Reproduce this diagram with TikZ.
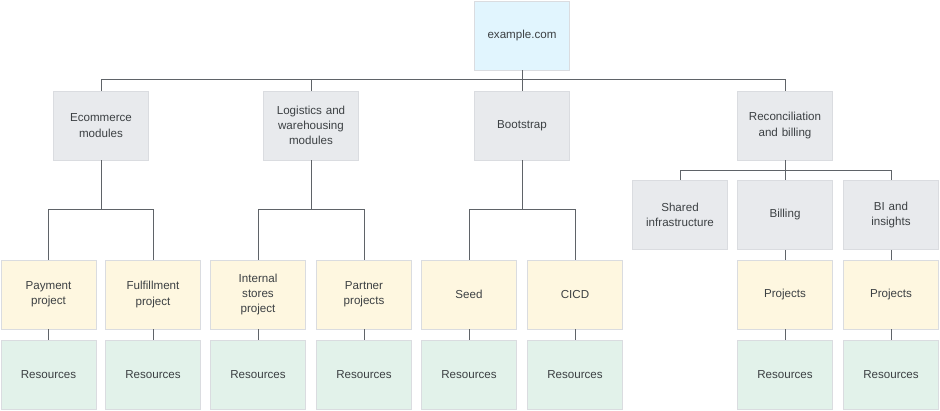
\documentclass[tikz,border=0pt]{standalone}
\usepackage{fontspec}
\setmainfont{Liberation Sans}
\definecolor{txt}{HTML}{3C4043}
\definecolor{ln}{HTML}{5F6368}
\definecolor{bd}{HTML}{DADCE0}
\definecolor{fblue}{HTML}{E1F5FE}
\definecolor{fgray}{HTML}{E8EAED}
\definecolor{fyel}{HTML}{FEF7E0}
\definecolor{fgreen}{HTML}{E2F2EA}
\tikzset{
  box/.style={draw=bd, line width=0.8pt, minimum width=95pt, minimum height=69pt, inner sep=0pt,
    align=center, text=txt, font=\fontsize{11.6}{15.2}\selectfont, text width=92pt},
  bluebox/.style={box, fill=fblue},
  graybox/.style={box, fill=fgray},
  yelbox/.style={box, fill=fyel},
  greenbox/.style={box, fill=fgreen},
  conn/.style={draw=ln, line width=0.9pt},
}
\begin{document}
\begin{tikzpicture}[x=1pt,y=-1pt]
\useasboundingbox (0,0) rectangle (940,411);
% top
\node[bluebox] (root) at (522,35.5) {example.com};
% row 2
\node[graybox] (ecom) at (101,125.5) {Ecommerce\\modules};
\node[graybox] (logi) at (311,125.5) {Logistics and\\warehousing\\modules};
\node[graybox] (boot) at (522,125.5) {Bootstrap};
\node[graybox] (reco) at (785,125.5) {Reconciliation\\and billing};
% row 3
\node[graybox] (shared) at (680,215) {Shared\\infrastructure};
\node[graybox] (bill) at (785,215) {Billing};
\node[graybox] (bi) at (891,215) {BI and\\insights};
% row 4
\node[yelbox] (pay) at (48.5,294.5) {Payment\\project};
\node[yelbox] (ful) at (153,294.5) {Fulfillment\\project};
\node[yelbox] (ins) at (258,294.5) {Internal\\stores\\project};
\node[yelbox] (par) at (364,294.5) {Partner\\projects};
\node[yelbox] (seed) at (469,294.5) {Seed};
\node[yelbox] (cicd) at (575,294.5) {CICD};
\node[yelbox] (pb) at (785,294.5) {Projects};
\node[yelbox] (pbi) at (891,294.5) {Projects};
% row 5
\node[greenbox] (r1) at (48.5,374.5) {Resources};
\node[greenbox] (r2) at (153,374.5) {Resources};
\node[greenbox] (r3) at (258,374.5) {Resources};
\node[greenbox] (r4) at (364,374.5) {Resources};
\node[greenbox] (r5) at (469,374.5) {Resources};
\node[greenbox] (r6) at (575,374.5) {Resources};
\node[greenbox] (r7) at (785,374.5) {Resources};
\node[greenbox] (r8) at (891,374.5) {Resources};
% connectors
\path[conn] (root.south) -- ++(0,9) -| (ecom.north);
\path[conn] (root.south) -- ++(0,9) -| (logi.north);
\path[conn] (root.south) -- (boot.north);
\path[conn] (root.south) -- ++(0,9) -| (reco.north);
\path[conn] (ecom.south) -- ++(0,49) -| (pay.north);
\path[conn] (ecom.south) -- ++(0,49) -| (ful.north);
\path[conn] (logi.south) -- ++(0,49) -| (ins.north);
\path[conn] (logi.south) -- ++(0,49) -| (par.north);
\path[conn] (boot.south) -- ++(0,49) -| (seed.north);
\path[conn] (boot.south) -- ++(0,49) -| (cicd.north);
\path[conn] (reco.south) -- ++(0,10) -| (shared.north);
\path[conn] (reco.south) -- (bill.north);
\path[conn] (reco.south) -- ++(0,10) -| (bi.north);
\path[conn] (bill.south) -- (pb.north);
\path[conn] (bi.south) -- (pbi.north);
\foreach \a/\b in {pay/r1,ful/r2,ins/r3,par/r4,seed/r5,cicd/r6,pb/r7,pbi/r8}
  \path[conn] (\a.south) -- (\b.north);
\end{tikzpicture}
\end{document}
